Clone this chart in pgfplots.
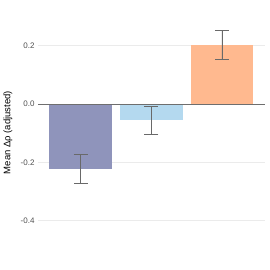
\documentclass[border=0pt]{standalone}
\usepackage{fontspec}
\setmainfont{Liberation Sans}
\usepackage{pgfplots}
\pgfplotsset{compat=1.18}
\definecolor{cA}{RGB}{143,148,187}
\definecolor{cB}{RGB}{180,217,239}
\definecolor{cC}{RGB}{255,185,143}
\definecolor{grd}{RGB}{235,235,235}
\definecolor{zl}{RGB}{110,110,110}
\definecolor{eb}{RGB}{105,105,105}
\definecolor{tl}{RGB}{80,80,80}
\begin{document}
\begin{tikzpicture}[x=1pt,y=1pt]
\path[use as bounding box] (0,0) rectangle (270,270);
\begin{axis}[
  at={(38pt,0pt)}, anchor=south west,
  scale only axis, width=227pt, height=270pt,
  xmin=-0.601, xmax=2.608,
  ymin=-0.569, ymax=0.357,
  axis line style={draw=none},
  xtick=\empty,
  ytick={-0.4,-0.2,0.2},
  extra y ticks={0},
  extra y tick style={grid=none},
  ymajorgrids, grid style={grd, line width=0.8pt},
  major tick length=0pt,
  yticklabel style={font=\fontsize{8}{9}\selectfont, text=tl, /pgf/number format/fixed, /pgf/number format/fixed zerofill, /pgf/number format/precision=1, /pgf/number format/assume math mode=true},
  ylabel={Mean Δρ (adjusted)},
  ylabel style={font=\fontsize{9.5}{10}\selectfont, at={(axis description cs:-0.132,0.509)}, anchor=center},
  ybar, bar width=0.89, bar shift=0pt,
  clip=false,
]
\addplot[fill=cA, draw=none, error bars/.cd, y dir=both, y explicit, error bar style={eb, line width=0.65pt}, error mark options={eb, line width=0.65pt, mark size=7pt, rotate=90}] coordinates {(0,-0.223) +- (0,0.050)};
\addplot[fill=cB, draw=none, error bars/.cd, y dir=both, y explicit, error bar style={eb, line width=0.65pt}, error mark options={eb, line width=0.65pt, mark size=7pt, rotate=90}] coordinates {(1,-0.055) +- (0,0.048)};
\addplot[fill=cC, draw=none, error bars/.cd, y dir=both, y explicit, error bar style={eb, line width=0.65pt}, error mark options={eb, line width=0.65pt, mark size=7pt, rotate=90}] coordinates {(2,0.203) +- (0,0.050)};
\draw[zl, line width=0.9pt] (axis cs:-0.601,0) -- (axis cs:2.608,0);
\end{axis}
\end{tikzpicture}
\end{document}
